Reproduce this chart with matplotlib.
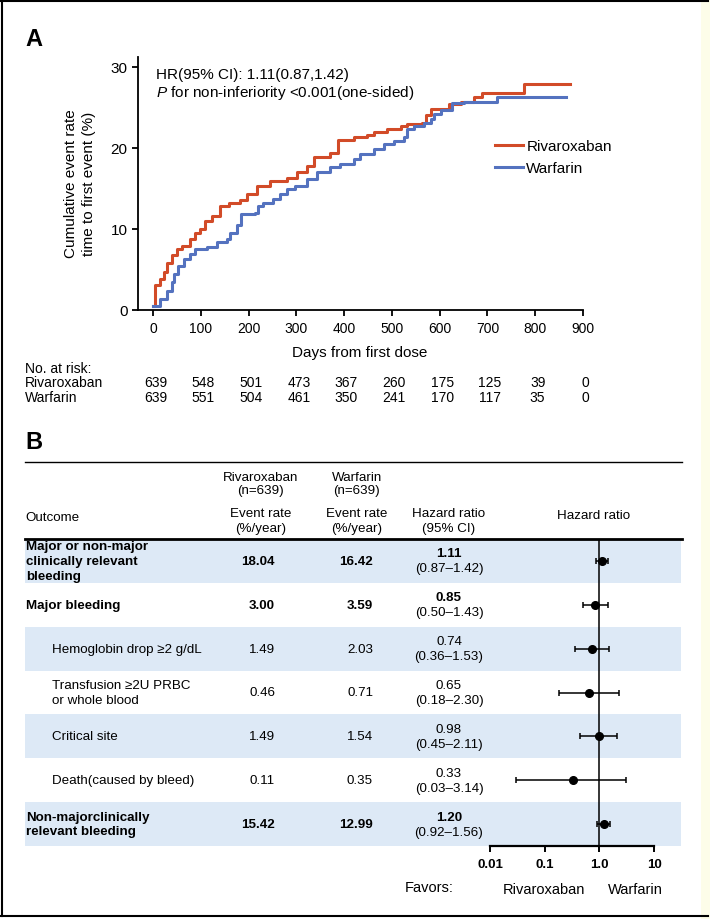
import numpy as np
import matplotlib
matplotlib.use("Agg")
import matplotlib.pyplot as plt
from matplotlib.patches import Rectangle
from matplotlib.transforms import blended_transform_factory

plt.rcParams.update({
    "font.family": ["Liberation Sans", "DejaVu Sans"],
    "mathtext.fontset": "custom",
    "mathtext.rm": "Liberation Sans",
    "mathtext.it": "Liberation Sans:italic",
})

W, H = 710, 920

# --- panel A: cumulative event curves ---
riva_days = [0, 4, 15, 22, 29, 39, 50, 60, 78, 88, 98, 109, 123, 140, 158, 182, 196,
             217, 245, 280, 301, 322, 336, 371, 388, 420, 448, 462, 490, 518, 532,
             563, 572, 581, 619, 645, 671, 689, 776, 872]
riva_pct = [0.5, 3.0, 3.8, 4.6, 5.8, 6.7, 7.5, 7.9, 8.7, 9.5, 10.0, 11.0, 11.6, 12.8,
            13.2, 13.5, 14.3, 15.3, 15.9, 16.3, 17.0, 17.8, 18.8, 19.4, 20.9, 21.3,
            21.6, 21.9, 22.3, 22.7, 22.9, 23.1, 24.0, 24.8, 25.4, 25.6, 26.2, 26.8,
            27.9, 27.9]
warf_days = [0, 15, 29, 39, 43, 53, 64, 78, 88, 112, 133, 154, 161, 175, 185, 213, 220,
             231, 252, 266, 280, 298, 322, 343, 371, 392, 420, 434, 462, 483, 504, 525,
             532, 546, 567, 581, 588, 603, 626, 650, 721, 865]
warf_pct = [0.5, 1.3, 2.3, 3.4, 4.4, 5.4, 6.3, 6.9, 7.5, 7.7, 8.3, 8.7, 9.5, 10.4, 11.8,
            12.0, 12.8, 13.2, 13.7, 14.3, 14.9, 15.3, 16.1, 17.0, 17.6, 18.0, 18.6, 19.2,
            19.8, 20.5, 20.8, 21.3, 22.3, 22.7, 23.1, 23.5, 24.2, 24.6, 25.5, 25.6, 26.2,
            26.2]

risk_days = [0, 100, 200, 300, 400, 500, 600, 700, 800, 900]
riva_risk = [639, 548, 501, 473, 367, 260, 175, 125, 39, 0]
warf_risk = [639, 551, 504, 461, 350, 241, 170, 117, 35, 0]

# --- panel B: forest table ---
outcomes = ["Major or non-major\nclinically relevant\nbleeding",
            "Major bleeding",
            "Hemoglobin drop \u22652 g/dL",
            "Transfusion \u22652U PRBC\nor whole blood",
            "Critical site",
            "Death(caused by bleed)",
            "Non-majorclinically\nrelevant bleeding"]
is_main = [True, True, False, False, False, False, True]
riva_rate = [18.04, 3.00, 1.49, 0.46, 1.49, 0.11, 15.42]
warf_rate = [16.42, 3.59, 2.03, 0.71, 1.54, 0.35, 12.99]
hr = [1.11, 0.85, 0.74, 0.65, 0.98, 0.33, 1.20]
hr_lo = [0.87, 0.50, 0.36, 0.18, 0.45, 0.03, 0.92]
hr_hi = [1.42, 1.43, 1.53, 2.30, 2.11, 3.14, 1.56]
forest_ticks = [0.01, 0.1, 1.0, 10]
forest_ticklabels = ["0.01", "0.1", "1.0", "10"]

RED = "#d24b28"
BLUE = "#5472bf"
BAND = "#dde9f6"


def px_axes(fig, left, top, right, bottom):
    return fig.add_axes([left / W, 1 - bottom / H, (right - left) / W, (bottom - top) / H])


fig = plt.figure(figsize=(W / 100, H / 100), dpi=100)

# overlay in pixel coordinates for the table, bands and frame
ov = fig.add_axes([0, 0, 1, 1])
ov.set_xlim(0, W)
ov.set_ylim(H, 0)
ov.axis("off")

ov.add_patch(Rectangle((701, 0), 9, H, color="#fdfde9", lw=0))
ov.plot([0, 708], [1.5, 1.5], color="black", lw=1.5)
ov.plot([0, 708], [917, 917], color="black", lw=1.5)
ov.plot([1.5, 1.5], [0, 917], color="black", lw=1.5)

ov.text(25, 39, "A", fontsize=17, fontweight="bold", va="center", ha="left")
ov.text(25, 443, "B", fontsize=17, fontweight="bold", va="center", ha="left")

# ---------------- panel A ----------------
ax = px_axes(fig, 138, 58, 583, 310.7)
ax.patch.set_alpha(0)
ax.step(riva_days, riva_pct, where="post", color=RED, lw=2.2, label="Rivaroxaban")
ax.step(warf_days, warf_pct, where="post", color=BLUE, lw=2.2, label="Warfarin")
ax.set_xlim(-31.5, 900)
ax.set_ylim(0, 31.2)
for s in ("top", "right"):
    ax.spines[s].set_visible(False)
for s in ("left", "bottom"):
    ax.spines[s].set_linewidth(1.3)
ax.set_xticks(risk_days)
ax.set_yticks([0, 10, 20, 30])
ax.tick_params(axis="both", direction="out", length=4.5, width=1.3)
ax.tick_params(axis="y", labelsize=11, pad=3)
ax.tick_params(axis="x", labelsize=10, pad=3.5)
ax.text(0.04, 75, "HR(95% CI): 1.11(0.87,1.42)", fontsize=11, va="center",
        transform=blended_transform_factory(ax.transAxes, ov.transData))
ax.text(0.04, 93, r"$\it{P}$ for non-inferiority <0.001(one-sided)", fontsize=11,
        va="center", transform=blended_transform_factory(ax.transAxes, ov.transData))
ax.legend(loc="upper left", bbox_to_anchor=(495 / W, 1 - 140 / H),
          bbox_transform=fig.transFigure, frameon=False, fontsize=11,
          handlelength=1.8, handletextpad=0.25, labelspacing=0.55,
          borderpad=0, borderaxespad=0)

ov.text(80, 184, "Cumulative event rate\ntime to first event (%)", rotation=90,
        fontsize=11, ha="center", va="center", linespacing=1.3)
ov.text(360, 353, "Days from first dose", fontsize=11, ha="center", va="center")

ov.text(25, 369, "No. at risk:", fontsize=10, va="center")
ov.text(25, 383, "Rivaroxaban", fontsize=10, va="center")
ov.text(25, 398, "Warfarin", fontsize=10, va="center")
risk_tf = blended_transform_factory(ax.transData, ov.transData)
for d, r, w in zip(risk_days, riva_risk, warf_risk):
    ax.text(d + 5, 383, str(r), fontsize=10, ha="center", va="center",
            transform=risk_tf, clip_on=False)
    ax.text(d + 5, 398, str(w), fontsize=10, ha="center", va="center",
            transform=risk_tf, clip_on=False)

# ---------------- panel B ----------------
FS = 9.6
ov.plot([25, 682], [463, 463], color="black", lw=1.0)
ov.plot([25, 682], [540, 540], color="black", lw=2.0)

ov.text(261, 484.5, "Rivaroxaban\n(n=639)", fontsize=FS, ha="center", va="center",
        linespacing=1.15)
ov.text(357, 484.5, "Warfarin\n(n=639)", fontsize=FS, ha="center", va="center",
        linespacing=1.15)
ov.text(25, 518, "Outcome", fontsize=FS, va="center")
ov.text(261, 521.5, "Event rate\n(%/year)", fontsize=FS, ha="center", va="center",
        linespacing=1.3)
ov.text(357, 521.5, "Event rate\n(%/year)", fontsize=FS, ha="center", va="center",
        linespacing=1.3)
ov.text(449, 521.5, "Hazard ratio\n(95% CI)", fontsize=FS, ha="center", va="center",
        linespacing=1.3)
ov.text(594, 516, "Hazard ratio", fontsize=FS, ha="center", va="center")

row_top, row_h = 540, (847 - 540) / len(outcomes)
for i, name in enumerate(outcomes):
    y0 = row_top + i * row_h
    yc = y0 + row_h / 2
    if i % 2 == 0:
        ov.add_patch(Rectangle((25, y0), 656, row_h, color=BAND, lw=0, zorder=0))
    fw = "bold" if is_main[i] else "normal"
    ov.text(26 if is_main[i] else 52, yc, name, fontsize=FS, fontweight=fw,
            va="center", ha="left", linespacing=1.3)
    ov.text(275, yc, f"{riva_rate[i]:.2f}", fontsize=FS, fontweight=fw,
            va="center", ha="right")
    ov.text(373, yc, f"{warf_rate[i]:.2f}", fontsize=FS, fontweight=fw,
            va="center", ha="right")
    ov.text(449, yc - 7.5, f"{hr[i]:.2f}", fontsize=FS, fontweight=fw,
            va="center", ha="center")
    ov.text(449, yc + 7.5, f"({hr_lo[i]:.2f}\u2013{hr_hi[i]:.2f})", fontsize=FS,
            va="center", ha="center")

fa = px_axes(fig, 490, 540, 654, 847)
fa.patch.set_alpha(0)
fa.set_xscale("log")
fa.set_xlim(0.01, 10)
fa.set_ylim(len(outcomes), 0)
ypos = np.arange(len(outcomes)) + 0.5
hr_a = np.array(hr)
xerr = [hr_a - np.array(hr_lo), np.array(hr_hi) - hr_a]
fa.errorbar(hr_a, ypos, xerr=xerr, fmt="o", color="black", ms=5.5, lw=1.1,
            capsize=2.3, capthick=1.1, clip_on=False, zorder=3)
fa.axvline(1.0, color="black", lw=1.1, zorder=2)
for s in ("top", "right", "left"):
    fa.spines[s].set_visible(False)
fa.spines["bottom"].set_linewidth(1.6)
fa.set_yticks([])
fa.set_xticks(forest_ticks)
fa.set_xticklabels(forest_ticklabels, fontweight="bold", fontsize=9.5)
fa.xaxis.set_minor_locator(matplotlib.ticker.NullLocator())
fa.tick_params(axis="x", direction="out", length=4, width=1.4, pad=5)

ov.text(404.5, 888, "Favors:", fontsize=10.5, va="center", ha="left")
ov.text(544, 890, "Rivaroxaban", fontsize=10.5, va="center", ha="center")
ov.text(635, 890, "Warfarin", fontsize=10.5, va="center", ha="center")

fig.savefig("out.png", dpi=100)
